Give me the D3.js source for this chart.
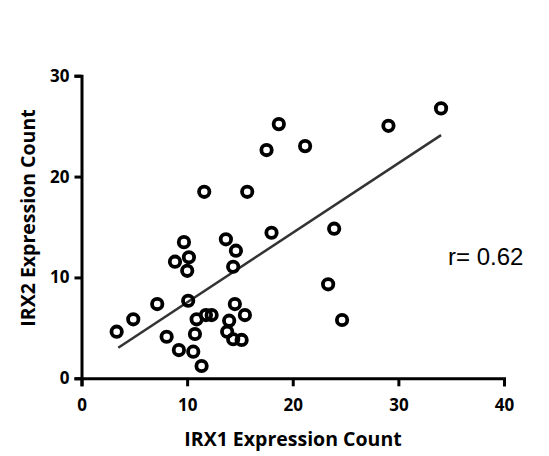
<!DOCTYPE html>
<html>
<head>
<meta charset="utf-8">
<script src="https://cdn.jsdelivr.net/npm/d3@7"></script>
<style>
  html, body { margin: 0; padding: 0; background: #fff; }
  svg { display: block; }
</style>
</head>
<body>
<svg id="chart" width="549" height="456"></svg>
<script>
// ---- data ----
const irx1 = [3.33, 4.90, 7.17, 8.06, 9.22, 9.70, 8.85, 10.17, 10.01, 10.10, 10.90, 10.74,
  10.58, 11.37, 11.78, 12.32, 11.62, 13.67, 14.62, 14.36, 14.52, 13.98, 15.47, 13.79,
  14.36, 15.16, 15.69, 17.99, 17.52, 18.68, 21.17, 23.92, 23.35, 24.67, 29.06, 34.04];
const irx2 = [4.62, 5.85, 7.36, 4.12, 2.80, 13.5, 11.56, 12.0, 10.66, 7.69, 5.85, 4.39,
  2.64, 1.22, 6.27, 6.27, 18.49, 13.78, 12.65, 11.06, 7.36, 5.71, 6.27, 4.62,
  3.87, 3.80, 18.49, 14.43, 22.63, 25.20, 23.02, 14.83, 9.32, 5.78, 25.03, 26.76];
const fitX = [3.48, 34.04];
const fitY = [3.03, 24.11];
const xTicks = [0, 10, 20, 30, 40];
const yTicks = [0, 10, 20, 30];
const xTitle = "IRX1 Expression Count";
const yTitle = "IRX2 Expression Count";
const rText = "r= 0.62";

// ---- chart ----
const svg = d3.select("#chart");
const x = d3.scaleLinear().domain([0, 40]).range([81.5, 504]);
const y = d3.scaleLinear().domain([0, 30]).range([378.3, 75.7]);

const boldFont = "'Open Sans', Lato, sans-serif";

const xAxis = svg.append("g")
  .attr("transform", `translate(0,${y(0)})`)
  .call(d3.axisBottom(x).tickValues(xTicks).tickFormat(d3.format("d")).tickSizeOuter(0).tickSize(8).tickPadding(13));
const yAxis = svg.append("g")
  .attr("transform", `translate(${x(0)},0)`)
  .call(d3.axisLeft(y).tickValues(yTicks).tickFormat(d3.format("d")).tickSizeOuter(0).tickSize(7).tickPadding(5));

[xAxis, yAxis].forEach(g => {
  g.select(".domain").attr("stroke", "#000").attr("stroke-width", 3);
  g.selectAll(".tick line").attr("stroke", "#000").attr("stroke-width", 3);
  g.selectAll(".tick text")
    .attr("fill", "#000")
    .style("font-family", boldFont)
    .style("font-weight", "bold")
    .style("font-size", "17px");
});

// regression line
svg.append("line")
  .attr("x1", x(fitX[0])).attr("y1", y(fitY[0]))
  .attr("x2", x(fitX[1])).attr("y2", y(fitY[1]))
  .attr("stroke", "#333")
  .attr("stroke-width", 2.5);

// points
svg.append("g").selectAll("circle")
  .data(irx1.map((v, i) => [v, irx2[i]]))
  .join("circle")
  .attr("cx", d => x(d[0]))
  .attr("cy", d => y(d[1]))
  .attr("r", 5.2)
  .attr("fill", "none")
  .attr("stroke", "#000")
  .attr("stroke-width", 3.8);

// axis titles
svg.append("text")
  .attr("x", 293).attr("y", 446)
  .attr("text-anchor", "middle")
  .style("font-family", boldFont)
  .style("font-weight", "bold")
  .style("font-size", "19.5px")
  .text(xTitle);

svg.append("text")
  .attr("transform", `translate(35,${218}) rotate(-90)`)
  .attr("text-anchor", "middle")
  .style("font-family", boldFont)
  .style("font-weight", "bold")
  .style("font-size", "19.5px")
  .text(yTitle);

// correlation label
svg.append("text")
  .attr("x", 448).attr("y", 265)
  .style("font-family", "'Liberation Sans', Arial, sans-serif")
  .style("font-size", "24px")
  .attr("fill", "#000")
  .text(rText);
</script>
</body>
</html>
